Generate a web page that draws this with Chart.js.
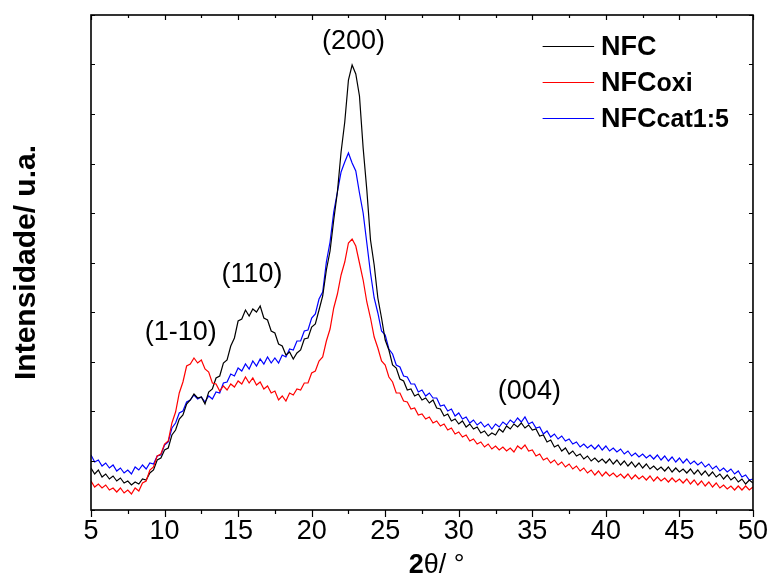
<!DOCTYPE html>
<html>
<head>
<meta charset="utf-8">
<script src="https://cdn.jsdelivr.net/npm/chart.js@4.4.1/dist/chart.umd.min.js"></script>
<style>
html,body{margin:0;padding:0;background:#fff;}
#wrap{width:773px;height:577px;position:relative;}
</style>
</head>
<body>
<div id="wrap"><canvas id="c" width="773" height="577"></canvas></div>
<script>
// 2theta (degrees)
const theta = [5,5.25,5.5,5.75,6,6.25,6.5,6.75,7,7.25,7.5,7.75,8,8.25,8.5,8.75,9,9.25,9.5,9.75,
10,10.25,10.5,10.75,11,11.25,11.5,11.75,12,12.25,12.5,12.75,13,13.25,13.5,13.75,14,14.25,14.5,14.75,
15,15.25,15.5,15.75,16,16.25,16.5,16.75,17,17.25,17.5,17.75,18,18.25,18.5,18.75,19,19.25,19.5,19.75,
20,20.25,20.5,20.75,21,21.25,21.5,21.75,22,22.25,22.5,22.75,23,23.25,23.5,23.75,24,24.25,24.5,24.75,
25,25.25,25.5,25.75,26,26.25,26.5,26.75,27,27.25,27.5,27.75,28,28.25,28.5,28.75,29,29.25,29.5,29.75,
30,30.25,30.5,30.75,31,31.25,31.5,31.75,32,32.25,32.5,32.75,33,33.25,33.5,33.75,34,34.25,34.5,34.75,
35,35.25,35.5,35.75,36,36.25,36.5,36.75,37,37.25,37.5,37.75,38,38.25,38.5,38.75,39,39.25,39.5,39.75,
40,40.25,40.5,40.75,41,41.25,41.5,41.75,42,42.25,42.5,42.75,43,43.25,43.5,43.75,44,44.25,44.5,44.75,
45,45.25,45.5,45.75,46,46.25,46.5,46.75,47,47.25,47.5,47.75,48,48.25,48.5,48.75,49,49.25,49.5,49.75,50];

// Intensity (a.u.)
const nfc = [42,36,40,33,36,31,34,29,32,27,29,25,28,26,31,30,37,40,50,52,
60,62,75,80,91,95,106,110,116,112,113,106,118,121,132,134,147,150,164,172,
189,191,200,194,201,198,204,192,190,179,177,166,164,155,158,151,157,160,171,172,
183,186,200,214,240,259,290,318,358,388,430,445,436,414,362,320,270,245,212,192,
170,160,145,142,131,129,120,121,114,116,110,112,107,110,102,101,94,96,89,91,
86,89,83,86,81,83,77,79,74,77,75,81,78,84,81,86,83,87,82,85,
80,81,74,75,68,70,63,65,59,62,56,59,54,56,51,54,49,52,48,51,
47,51,46,50,45,49,44,48,43,47,42,46,41,44,40,43,39,43,38,42,
38,41,37,41,36,40,35,39,34,38,33,36,31,35,30,33,28,31,26,30,27];

const nfcOxi = [29,23,26,22,25,20,22,18,22,17,20,16,22,19,27,29,40,43,54,56,
66,69,87,98,117,128,144,146,152,147,150,141,138,127,126,119,124,120,126,123,
129,126,133,127,132,125,128,121,124,117,119,110,114,109,117,115,121,120,127,127,
137,139,149,153,169,181,202,216,235,248,267,271,264,247,230,208,192,173,162,149,
145,133,128,117,117,109,108,101,102,95,96,91,93,87,89,84,86,80,82,76,
78,73,75,69,71,66,68,63,66,61,64,60,63,59,62,58,64,61,65,59,
60,54,56,50,52,47,50,45,48,43,46,41,44,39,42,37,40,35,39,34,
38,34,37,33,36,32,36,31,35,31,34,30,34,29,33,29,32,28,32,28,
31,27,31,26,30,25,29,24,28,23,27,22,25,21,24,20,24,20,24,20,23];

const nfcCat = [55,48,50,44,47,42,45,39,42,37,40,36,43,40,45,41,47,46,54,55,
65,68,82,87,97,99,108,110,115,111,113,108,114,111,118,117,127,128,136,134,
142,139,146,141,149,144,151,146,153,147,152,147,155,153,161,160,169,169,179,180,
192,196,211,218,248,268,298,318,338,348,357,347,339,317,297,267,237,212,197,179,
175,161,156,145,143,134,133,126,126,118,120,114,117,112,112,104,105,99,101,94,
97,91,93,87,90,85,88,83,86,81,86,83,88,85,90,87,92,88,93,86,
88,82,83,76,79,73,76,71,74,69,71,66,68,63,66,62,65,61,65,60,
64,59,62,58,61,56,59,54,57,53,56,52,55,51,55,50,54,49,53,48,
52,47,51,46,49,45,48,43,46,41,44,39,42,38,41,36,39,33,35,30,31];

// Legend, axis title and peak labels
const seriesMain = ['NFC', 'NFC', 'NFC'];
const seriesSub = ['', 'oxi', 'cat1:5'];
const seriesColors = ['#000000', '#ff0000', '#0000ff'];
const peakLabels = ['(1-10)', '(110)', '(200)', '(004)'];
const peakTheta = [11.1, 15.95, 22.85, 34.8];
const peakIntensity = [177, 235, 468, 118];
const xTicks = [5, 10, 15, 20, 25, 30, 35, 40, 45, 50];
const xTitleBold = '2';
const xTitleRest = 'θ/ °';
const yTitle = 'Intensidade/ u.a.';

const FONT = '"Liberation Sans", Arial, sans-serif';
const toPts = arr => theta.map((t, i) => ({x: t, y: arr[i]}));

const frame = {
  id: 'frame',
  afterDraw(chart) {
    const ctx = chart.ctx;
    const a = chart.chartArea;
    const xs = chart.scales.x, ys = chart.scales.y;
    ctx.save();
    ctx.strokeStyle = '#000';
    ctx.lineWidth = 1.6;
    ctx.strokeRect(a.left, a.top, a.right - a.left, a.bottom - a.top);
    ctx.lineWidth = 1.2;
    ctx.beginPath();
    for (let v = 5; v <= 50.001; v += 2.5) {
      const px = Math.round(xs.getPixelForValue(v)) + 0.5;
      const major = Math.abs(v / 5 - Math.round(v / 5)) < 1e-6;
      const lb = major ? 7 : 4;
      ctx.moveTo(px, a.bottom); ctx.lineTo(px, a.bottom + lb);
      ctx.moveTo(px, a.top); ctx.lineTo(px, a.top + (major ? 5 : 3));
    }
    for (let v = 0; v <= 495.001; v += 49.5) {
      const py = Math.round(ys.getPixelForValue(v)) + 0.5;
      ctx.moveTo(a.left, py); ctx.lineTo(a.left + 4, py);
      ctx.moveTo(a.right, py); ctx.lineTo(a.right - 4, py);
    }
    ctx.stroke();

    // peak labels
    ctx.fillStyle = '#000';
    ctx.font = '27px ' + FONT;
    ctx.textAlign = 'center';
    ctx.textBaseline = 'middle';
    peakLabels.forEach((t, i) => {
      ctx.fillText(t, xs.getPixelForValue(peakTheta[i]), ys.getPixelForValue(peakIntensity[i]));
    });

    // x axis title (bold "2", regular rest)
    ctx.textAlign = 'left';
    ctx.textBaseline = 'alphabetic';
    ctx.font = 'bold 27px ' + FONT;
    const w1 = ctx.measureText(xTitleBold).width;
    ctx.font = '27px ' + FONT;
    const w2 = ctx.measureText(xTitleRest).width;
    const cx = xs.getPixelForValue(28.5);
    const x0 = cx - (w1 + w2) / 2;
    const by = 573;
    ctx.font = 'bold 27px ' + FONT;
    ctx.fillText(xTitleBold, x0, by);
    ctx.font = '27px ' + FONT;
    ctx.fillText(xTitleRest, x0 + w1, by);

    // legend
    const lx0 = xs.getPixelForValue(35.7), lx1 = xs.getPixelForValue(39.2);
    const rows = [464, 428, 392];
    seriesMain.forEach((m, i) => {
      const y = ys.getPixelForValue(rows[i]);
      ctx.strokeStyle = seriesColors[i];
      ctx.lineWidth = 1.2;
      ctx.beginPath();
      ctx.moveTo(lx0, Math.round(y) + 0.5); ctx.lineTo(lx1, Math.round(y) + 0.5);
      ctx.stroke();
      ctx.fillStyle = '#000';
      ctx.font = 'bold 27px ' + FONT;
      const tx = lx1 + 7;
      const base = y + 9;
      ctx.fillText(m, tx, base);
      const w = ctx.measureText(m).width;
      if (seriesSub[i]) {
        ctx.font = 'bold 25px ' + FONT;
        ctx.fillText(seriesSub[i], tx + w, base);
      }
    });
    ctx.restore();
  }
};

new Chart(document.getElementById('c'), {
  type: 'line',
  data: {
    datasets: [
      {label: 'NFCoxi', data: toPts(nfcOxi), borderColor: seriesColors[1], borderWidth: 1.2, pointRadius: 0, tension: 0},
      {label: 'NFC', data: toPts(nfc), borderColor: seriesColors[0], borderWidth: 1.2, pointRadius: 0, tension: 0},
      {label: 'NFCcat1:5', data: toPts(nfcCat), borderColor: seriesColors[2], borderWidth: 1.2, pointRadius: 0, tension: 0}
    ]
  },
  options: {
    responsive: false,
    animation: false,
    events: [],
    layout: {padding: {top: 15, right: 16, left: 0, bottom: 0}},
    plugins: {legend: {display: false}, tooltip: {enabled: false}},
    scales: {
      x: {
        type: 'linear', min: 5, max: 50,
        afterBuildTicks: s => { s.ticks = xTicks.map(v => ({value: v})); },
        afterFit: s => { s.height = 67; },
        grid: {display: false, drawTicks: false},
        border: {display: false},
        ticks: {color: '#000', padding: 5, maxRotation: 0, autoSkip: false,
                font: {family: FONT, size: 27}},
        title: {display: false}
      },
      y: {
        min: 0, max: 495,
        afterFit: s => { s.width = 91; },
        grid: {display: false, drawTicks: false},
        border: {display: false},
        ticks: {display: false},
        title: {display: true, text: yTitle, color: '#000', padding: {top: 12, bottom: 0},
                font: {family: FONT, size: 30, weight: 'bold', lineHeight: 1}}
      }
    }
  },
  plugins: [frame]
});
</script>
</body>
</html>
